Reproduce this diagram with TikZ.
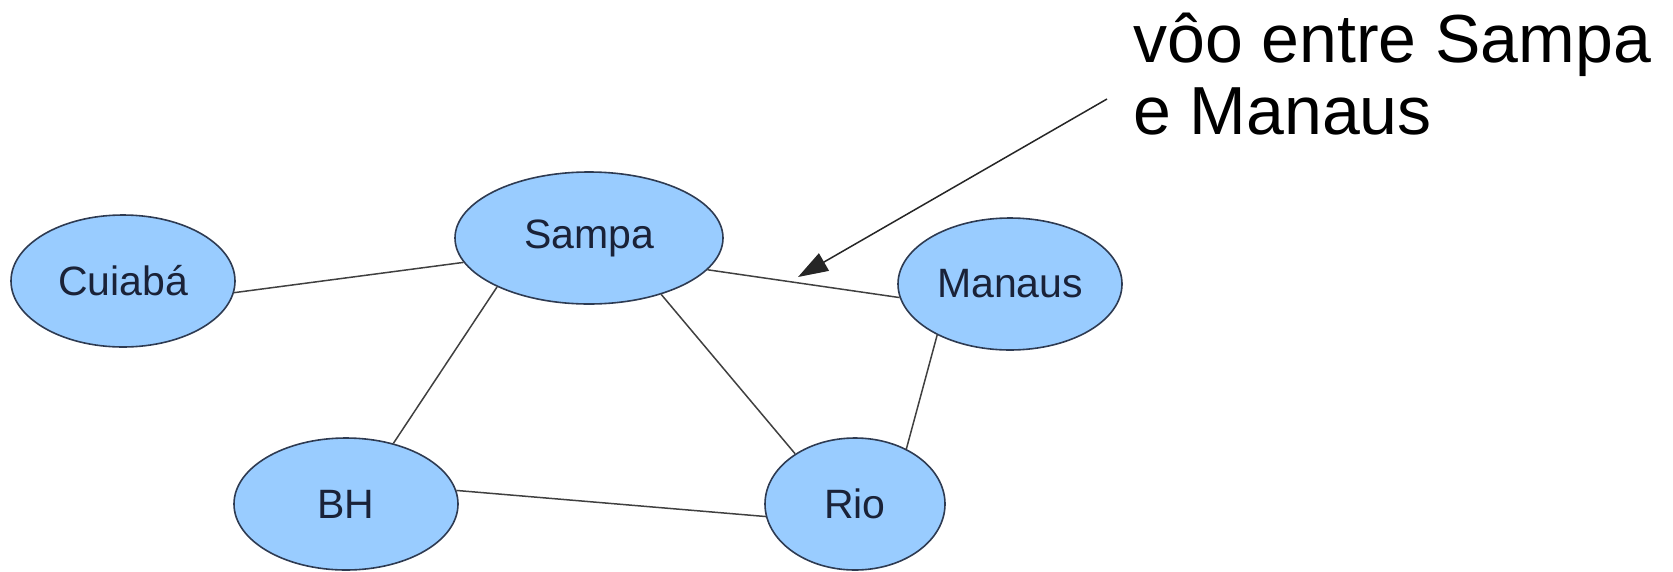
\documentclass[tikz,border=0pt]{standalone}
\usepackage{fontspec}
\setmainfont{Liberation Sans}
\usetikzlibrary{arrows.meta, shapes.geometric}
\definecolor{cityfill}{HTML}{99CCFF}
\definecolor{cityline}{HTML}{2E3B52}
\definecolor{citytext}{HTML}{1A2238}

\begin{document}
\begin{tikzpicture}[x=1pt, y=-1pt,
city/.style={ellipse, draw=cityline, line width=1.6pt, fill=cityfill, text=citytext,
  inner sep=0pt, minimum height=132pt, minimum width=224pt, font=\fontsize{41}{41}\selectfont},
road/.style={draw=black!75, line width=1.5pt}]
\useasboundingbox (0,0) rectangle (1673,571);

% cities
\node[city, minimum width=268pt] (sampa) at (589,238) {Sampa};
\node[city] (cuiaba) at (123,281) {Cuiabá};
\node[city] (manaus) at (1010,284) {Manaus};
\node[city] (bh) at (346,504) {BH};
\node[city, minimum width=180pt] (rio) at (855,504) {Rio};

% flights
\draw[road] (cuiaba.354) -- (sampa.191);
\draw[road] (sampa.208) -- (bh.52);
\draw[road] (sampa.322) -- (rio.140);
\draw[road] (sampa.345) -- (manaus.187);
\draw[road] (manaus.215) -- (rio.47);
\draw[road] (bh.7) -- (rio.188);

% note (base = last line)
\node[anchor=base west, align=left, inner sep=0pt, font=\fontsize{68}{72}\selectfont] (note) at (1133,134) {vôo entre Sampa\\e Manaus};
\coordinate (tail) at (1107,99);
\coordinate (tip) at (798,277);
\draw[road, draw=black!85, -{Triangle[length=30pt, width=20pt]}] (tail) -- (tip);
\end{tikzpicture}
\end{document}
